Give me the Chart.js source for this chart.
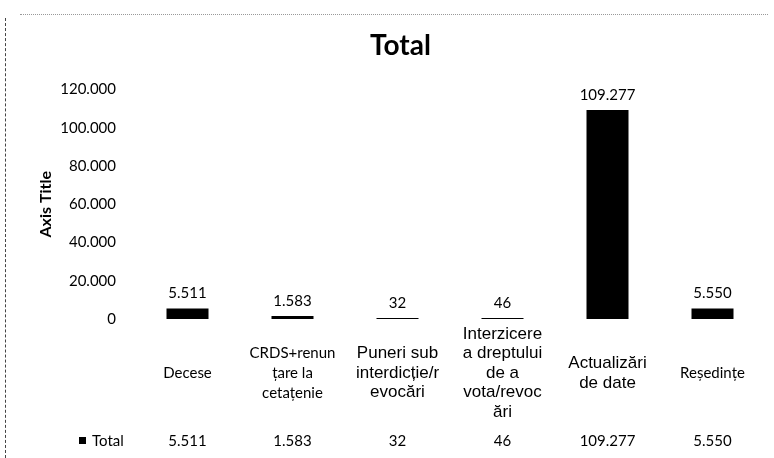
<!DOCTYPE html>
<html>
<head>
<meta charset="utf-8">
<title>Total</title>
<script src="https://cdn.jsdelivr.net/npm/chart.js@4.4.1/dist/chart.umd.min.js"></script>
<style>
    body { margin: 0; background: #fff; }
    .wrap { position: relative; width: 774px; height: 458px; }
    .edge-left { position: absolute; left: 5px; top: 18px; bottom: 0; border-left: 1px dashed #444; }
    .edge-top { position: absolute; left: 20px; right: 6px; top: 14px; border-top: 1px dotted #999; }
</style>
</head>
<body>
<div class="wrap">
    <canvas id="barChart" width="774" height="458"></canvas>
    <div class="edge-left"></div>
    <div class="edge-top"></div>
</div>
<script>
// date
const categories = [
    ['Decese'],
    ['CRDS+renun', 'țare la', 'cetațenie'],
    ['Puneri sub', 'interdicție/r', 'evocări'],
    ['Interzicere', 'a dreptului', 'de a', 'vota/revoc', 'ări'],
    ['Actualizări', 'de date'],
    ['Reședințe']
];
const totals = [5511, 1583, 32, 46, 109277, 5550];
const seriesName = 'Total';
const yMax = 120000;
const yStep = 20000;

// labels written in Arial in the original sheet, the rest look like Calibri
const arialCols = [2, 3, 4];

const fmt = (v) => String(v).replace(/\B(?=(\d{3})+(?!\d))/g, '.');

const numFont = { family: 'Lato, "Open Sans", sans-serif', size: 15 };

// etichete de valoare deasupra barelor
const valueLabels = {
    id: 'valueLabels',
    afterDatasetsDraw(chart) {
        const ctx = chart.ctx;
        const meta = chart.getDatasetMeta(0);
        ctx.save();
        ctx.font = '15px Lato, "Open Sans", sans-serif';
        ctx.fillStyle = '#000';
        ctx.textAlign = 'center';
        ctx.textBaseline = 'middle';
        meta.data.forEach((bar, i) => {
            ctx.fillText(fmt(totals[i]), bar.x, bar.y - 15);
        });
        ctx.restore();
    }
};

// legend key in front of the data table row
const tableKey = {
    id: 'tableKey',
    afterDraw(chart) {
        const ctx = chart.ctx;
        const x2 = chart.scales.x2;
        const y = x2.top + 8 + 9;
        const left = chart.chartArea.left - 56;
        ctx.save();
        ctx.fillStyle = '#000';
        ctx.fillRect(left, y - 4, 7, 7);
        ctx.font = '15px Lato, "Open Sans", sans-serif';
        ctx.textAlign = 'left';
        ctx.textBaseline = 'middle';
        ctx.fillText(seriesName, left + 13, y);
        ctx.restore();
    }
};

new Chart(document.getElementById('barChart').getContext('2d'), {
    type: 'bar',
    data: {
        labels: categories,
        datasets: [{
            label: seriesName,
            data: totals,
            backgroundColor: '#000',
            borderWidth: 0,
            barPercentage: 0.4,
            categoryPercentage: 1,
            minBarLength: 1
        }]
    },
    options: {
        responsive: false,
        animation: false,
        layout: {
            padding: { left: 36, right: 9, top: 0, bottom: 0 }
        },
        plugins: {
            legend: { display: false },
            tooltip: { enabled: false },
            title: {
                display: true,
                text: 'Total',
                color: '#000',
                font: { family: 'Lato, sans-serif', size: 28, weight: 'bold', lineHeight: 1.2 },
                padding: { top: 29, bottom: 27 }
            }
        },
        scales: {
            x: {
                position: 'bottom',
                grid: { display: false, drawTicks: false },
                border: { display: false },
                ticks: {
                    color: '#000',
                    maxRotation: 0,
                    minRotation: 0,
                    autoSkip: false,
                    crossAlign: 'center',
                    padding: 15,
                    font: (c) => arialCols.includes(c.index)
                        ? { family: '"Liberation Sans", Arial, sans-serif', size: 17, lineHeight: 1.15 }
                        : { family: 'Lato, sans-serif', size: 15, lineHeight: 20 / 15 }
                },
                afterFit: (scale) => { scale.height = 105; }
            },
            x2: {
                type: 'category',
                position: 'bottom',
                weight: 1,
                offset: true,
                labels: totals.map(fmt),
                grid: { display: false, drawTicks: false },
                border: { display: false },
                ticks: {
                    color: '#000',
                    maxRotation: 0,
                    autoSkip: false,
                    padding: 8,
                    font: { family: 'Lato, sans-serif', size: 15, lineHeight: 1.2 }
                },
                afterFit: (scale) => { scale.height = 34; }
            },
            y: {
                min: 0,
                max: yMax,
                grid: { display: false, drawTicks: false },
                border: { display: false },
                ticks: {
                    stepSize: yStep,
                    color: '#000',
                    padding: 19,
                    font: numFont,
                    callback: (v) => fmt(v)
                },
                title: {
                    display: true,
                    text: 'Axis Title',
                    color: '#000',
                    font: { family: 'Lato, sans-serif', size: 16, weight: 'bold', lineHeight: 1.2 },
                    padding: { top: 0, bottom: 0 }
                },
                afterFit: (scale) => { scale.width = 99; }
            }
        }
    },
    plugins: [valueLabels, tableKey]
});
</script>
</body>
</html>
